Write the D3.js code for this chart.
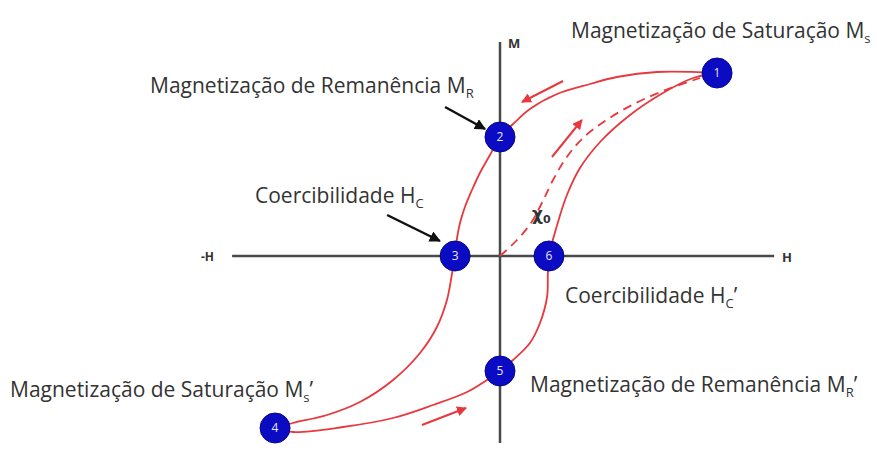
<!DOCTYPE html>
<html>
<head>
<meta charset="utf-8">
<script src="https://cdn.jsdelivr.net/npm/d3@7"></script>
<style>
  html, body { margin: 0; padding: 0; background: #fff; }
  svg { display: block; }
  .lbl { font-family: "Open Sans", "Noto Sans", sans-serif; fill: #333; }
  .ax { font-family: "Open Sans", sans-serif; font-weight: 700; fill: #333; }
</style>
</head>
<body>
<svg id="chart" width="877" height="468"></svg>
<script>
// Hysteresis loop: field H (horizontal) vs magnetization M (vertical), arbitrary units.

// Numbered states on the loop
const markerIds = [1, 2, 3, 4, 5, 6];
const markerH   = [0.798, 0, -0.165, -0.827, 0, 0.180];
const markerM   = [0.915, 0.595, 0, -0.860, -0.575, 0];

// Descending branch: 1 -> 2 -> 3 -> 4
const descH = [0.798, 0.577, 0.430, 0.331, 0.210, 0.110, 0.048, 0, -0.037, -0.074, -0.103, -0.129, -0.147, -0.158, -0.165,
               -0.176, -0.195, -0.232, -0.294, -0.393, -0.515, -0.636, -0.761, -0.827];
const descM = [0.915, 0.920, 0.895, 0.860, 0.810, 0.735, 0.660, 0.595, 0.505, 0.415, 0.330, 0.245, 0.165, 0.090, 0,
               -0.085, -0.220, -0.355, -0.485, -0.620, -0.730, -0.795, -0.835, -0.860];

// Ascending branch: 4 -> 5 -> 6 -> 1
const ascH = [-0.827, -0.761, -0.577, -0.393, -0.246, -0.121, -0.048, 0, 0.048, 0.110, 0.147, 0.173,
              0.176, 0.180, 0.210, 0.246, 0.294, 0.368, 0.478, 0.599, 0.710, 0.798];
const ascM = [-0.860, -0.880, -0.855, -0.810, -0.745, -0.680, -0.620, -0.575, -0.520, -0.435, -0.335, -0.205,
              -0.085, 0, 0.155, 0.305, 0.440, 0.570, 0.705, 0.815, 0.890, 0.915];

// Initial magnetization curve (dashed), from the origin up to saturation
const initH = [0, 0.059, 0.114, 0.154, 0.195, 0.243, 0.305, 0.386, 0.485, 0.599, 0.735];
const initM = [0, 0.075, 0.165, 0.265, 0.380, 0.490, 0.590, 0.675, 0.755, 0.825, 0.890];

// Direction arrows along the loop
const flowFromH = [0.232, 0.191, -0.287];
const flowFromM = [0.875, 0.495, -0.845];
const flowToH   = [0.081, 0.301, -0.125];
const flowToM   = [0.770, 0.680, -0.760];

// Axis extents
const axisH = [-0.985, 1.008];
const axisM = [-0.935, 1.070];

const svg = d3.select("#chart");
const x = d3.scaleLinear().domain([-1, 1]).range([228, 772]);
const y = d3.scaleLinear().domain([-1, 1]).range([456, 56]);

const red = "#e8383d";
const defs = svg.append("defs");
defs.append("marker").attr("id", "headRed").attr("viewBox", "0 0 10 10")
  .attr("refX", 9).attr("refY", 5).attr("markerWidth", 5).attr("markerHeight", 5)
  .attr("orient", "auto").attr("markerUnits", "strokeWidth")
  .append("path").attr("d", "M0,0 L10,5 L0,10 Z").attr("fill", red);
defs.append("marker").attr("id", "headBlack").attr("viewBox", "0 0 10 10")
  .attr("refX", 9).attr("refY", 5).attr("markerWidth", 4.5).attr("markerHeight", 4.5)
  .attr("orient", "auto").attr("markerUnits", "strokeWidth")
  .append("path").attr("d", "M0,0 L10,5 L0,10 Z").attr("fill", "#111");

// Axes
svg.append("line").attr("x1", x(axisH[0])).attr("x2", x(axisH[1]))
  .attr("y1", y(0)).attr("y2", y(0)).attr("stroke", "#4a4a4a").attr("stroke-width", 2.5);
svg.append("line").attr("x1", x(0)).attr("x2", x(0))
  .attr("y1", y(axisM[0])).attr("y2", y(axisM[1])).attr("stroke", "#4a4a4a").attr("stroke-width", 2.5);

svg.append("text").attr("class", "ax").attr("x", 508).attr("y", 48).attr("font-size", 13).text("M");
svg.append("text").attr("class", "ax").attr("x", 782).attr("y", 262).attr("font-size", 13).text("H");
svg.append("text").attr("class", "ax").attr("x", 201).attr("y", 261).attr("font-size", 12).text("-H");

const line = d3.line().x(d => x(d[0])).y(d => y(d[1])).curve(d3.curveCatmullRom.alpha(0.5));
const zip = (a, b) => a.map((v, i) => [v, b[i]]);

svg.append("path").attr("d", line(zip(initH, initM))).attr("fill", "none")
  .attr("stroke", red).attr("stroke-width", 1.8).attr("stroke-dasharray", "9,6");
svg.append("path").attr("d", line(zip(descH, descM))).attr("fill", "none")
  .attr("stroke", red).attr("stroke-width", 1.8);
svg.append("path").attr("d", line(zip(ascH, ascM))).attr("fill", "none")
  .attr("stroke", red).attr("stroke-width", 1.8);

// Flow arrows
flowFromH.forEach((h, i) => {
  svg.append("line")
    .attr("x1", x(h)).attr("y1", y(flowFromM[i]))
    .attr("x2", x(flowToH[i])).attr("y2", y(flowToM[i]))
    .attr("stroke", red).attr("stroke-width", 2).attr("marker-end", "url(#headRed)");
});

// χ0 label for the initial slope
const chi = svg.append("text").attr("x", 532).attr("y", 220)
  .attr("font-family", "DejaVu Sans, sans-serif").attr("font-weight", 700)
  .attr("fill", "#333").attr("font-size", 17);
chi.append("tspan").text("χ");
chi.append("tspan").attr("font-size", 11).attr("dy", 3).text("0");

// Pointer arrows towards points 2 and 3
const pointers = [[-0.202, 0.745, -0.055, 0.635], [-0.415, 0.205, -0.221, 0.075]];
pointers.forEach(p => {
  svg.append("line").attr("x1", x(p[0])).attr("y1", y(p[1]))
    .attr("x2", x(p[2])).attr("y2", y(p[3]))
    .attr("stroke", "#111").attr("stroke-width", 2.5).attr("marker-end", "url(#headBlack)");
});

// Markers
const g = svg.selectAll("g.mk").data(markerIds).join("g").attr("class", "mk")
  .attr("transform", (d, i) => `translate(${x(markerH[i])},${y(markerM[i])})`);
g.append("circle").attr("r", 15).attr("fill", "#0b0bc4").attr("stroke", "#06068a").attr("stroke-width", 1);
g.append("text").text(d => d).attr("text-anchor", "middle").attr("dy", "0.35em")
  .attr("font-family", "Open Sans, sans-serif").attr("font-size", 12).attr("fill", "#e8e8ff");

// Text annotations
function label(px, py, main, sub, suffix) {
  const t = svg.append("text").attr("class", "lbl").attr("x", px).attr("y", py).attr("font-size", 21);
  t.append("tspan").text(main);
  if (sub) t.append("tspan").attr("font-size", 13).attr("dy", 5).text(sub);
  if (suffix) t.append("tspan").attr("dy", -5).text(suffix);
}
label(571, 38, "Magnetização de Saturação M", "s");
label(150, 93, "Magnetização de Remanência M", "R");
label(255, 203, "Coercibilidade H", "C");
label(565, 303, "Coercibilidade H", "C", "’");
label(530, 392, "Magnetização de Remanência M", "R", "’");
label(10, 397, "Magnetização de Saturação M", "s", "’");
</script>
</body>
</html>
